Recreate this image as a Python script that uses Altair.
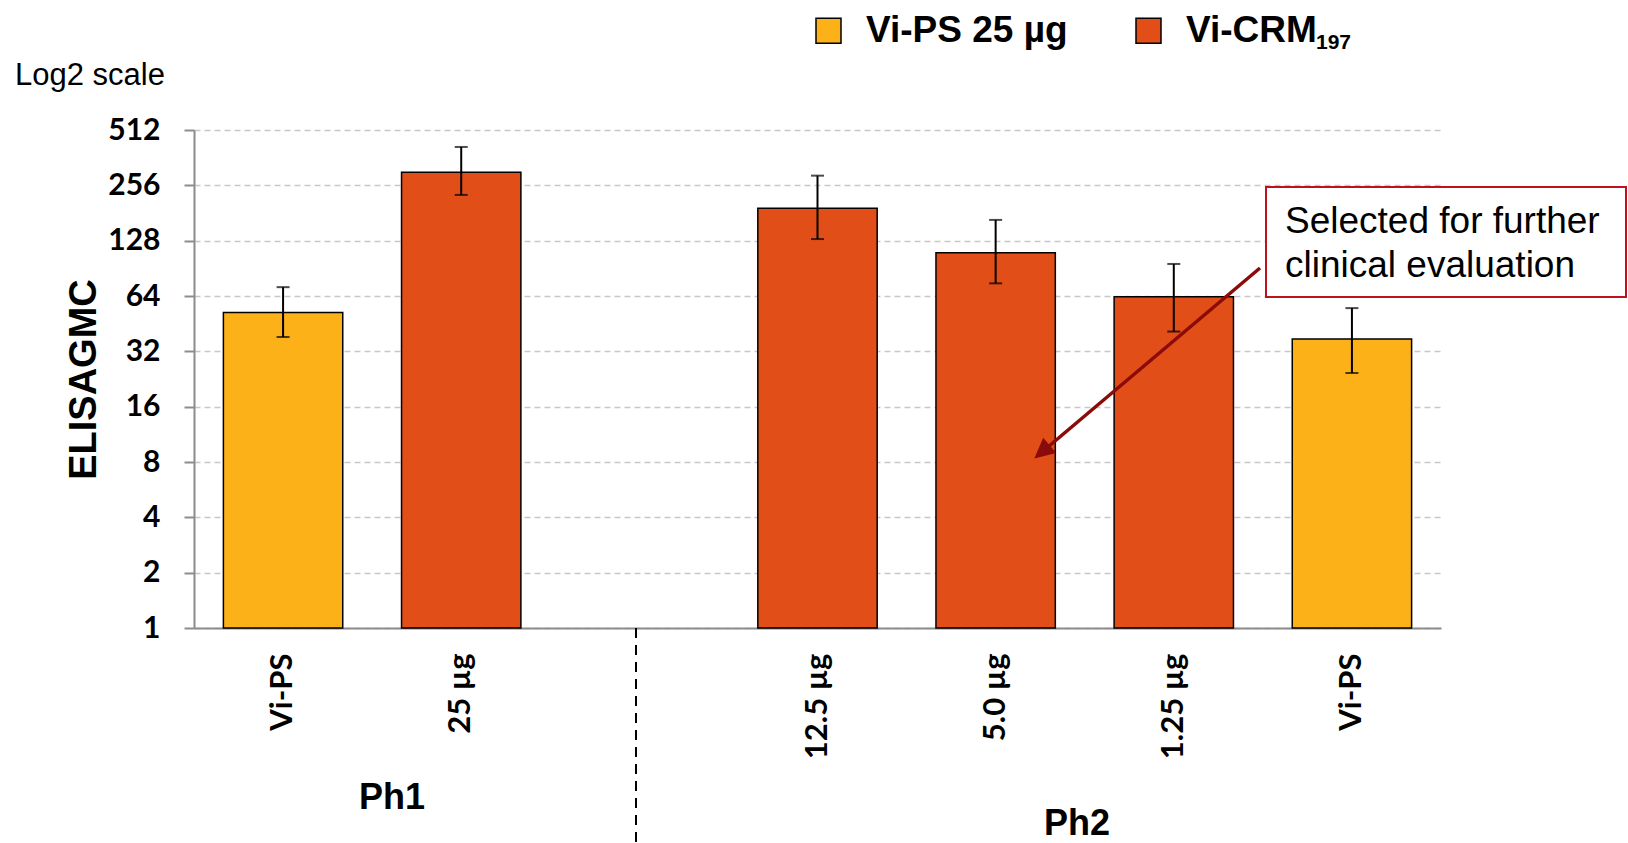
import altair as alt
import pandas as pd

# ELISA geometric mean concentrations with 95% CI, by study phase and dose
phase = ["Ph1", "Ph1", "Ph2", "Ph2", "Ph2", "Ph2"]
dose = ["Vi-PS", "25 µg", "12.5 µg", "5.0 µg", "1.25 µg", "Vi-PS"]
vaccine = ["Vi-PS 25 µg", "Vi-CRM197", "Vi-CRM197", "Vi-CRM197", "Vi-CRM197", "Vi-PS 25 µg"]
gmc = [52, 302, 192, 110, 63.5, 37.3]
ci_low = [38.3, 227, 130.6, 75, 41, 24.4]
ci_high = [71.5, 414, 289, 166, 95.6, 55]

y_ticks = [1, 2, 4, 8, 16, 32, 64, 128, 256, 512]
vaccines = ["Vi-PS 25 µg", "Vi-CRM197"]
vaccine_colors = ["#FDB118", "#E24E17"]

slot = [f"{p}|{d}" for p, d in zip(phase, dose)]
x_domain = slot[:2] + ["gap"] + slot[2:]

df = pd.DataFrame({
    "slot": slot, "vaccine": vaccine, "gmc": gmc,
    "low": ci_low, "high": ci_high, "base": [1] * len(slot),
})

W, H = 1247, 498
LABEL_FONT = "Lato"
TEXT_FONT = "Liberation Sans"

x_enc = alt.X(
    "slot:N",
    scale=alt.Scale(domain=x_domain, paddingInner=0.33, paddingOuter=0.165),
    axis=alt.Axis(
        title=None, labelAngle=270, labelAlign="right", labelBaseline="middle",
        labelFont=LABEL_FONT, labelFontWeight="bold", labelFontSize=31,
        labelPadding=25, ticks=False, domainColor="#8c8c8c", domainWidth=2,
        labelColor="black",
        labelExpr="indexof(datum.label, '|') < 0 ? '' : split(datum.label, '|')[1]",
    ),
)
y_scale = alt.Scale(type="log", base=2, domain=[1, 512], nice=False)

base = alt.Chart(df)

bars = base.mark_bar(stroke="black", strokeWidth=1.5).encode(
    x=x_enc,
    y=alt.Y(
        "gmc:Q", scale=y_scale,
        axis=alt.Axis(
            values=y_ticks, format="d", title="ELISAGMC",
            titleFont=TEXT_FONT, titleFontSize=38, titleFontWeight="bold",
            titleAngle=270, titleX=-110, titleY=H / 2, titleAlign="center",
            titleBaseline="middle", titleColor="black",
            labelFont=LABEL_FONT, labelFontWeight="bold", labelFontSize=30,
            labelPadding=24, labelColor="black",
            tickSize=10, tickWidth=2, tickColor="#8c8c8c",
            domainColor="#8c8c8c", domainWidth=2,
            grid=True, gridDash=[6, 4], gridColor="#c8c8c8", gridWidth=1.5,
        ),
    ),
    y2="base:Q",
    color=alt.Color(
        "vaccine:N",
        scale=alt.Scale(domain=vaccines, range=vaccine_colors),
        legend=alt.Legend(
            title=None, orient="none", legendX=616, legendY=-118,
            direction="horizontal", symbolType="square", symbolSize=625,
            symbolStrokeColor="black", symbolStrokeWidth=1.5, symbolOpacity=1,
            labelFont=TEXT_FONT, labelFontWeight="bold", labelFontSize=37,
            labelColor="black", labelLimit=500, labelOffset=19,
            columnPadding=62, padding=0,
            labelExpr="datum.label == 'Vi-CRM197' ? 'Vi-CRM' : datum.label",
        ),
    ),
)

err = base.mark_rule(color="black", strokeWidth=2).encode(
    x=alt.X("slot:N"), y=alt.Y("low:Q"), y2="high:Q"
)
cap_low = base.mark_tick(color="black", thickness=2, size=13).encode(
    x=alt.X("slot:N"), y=alt.Y("low:Q")
)
cap_high = base.mark_tick(color="black", thickness=2, size=13).encode(
    x=alt.X("slot:N"), y=alt.Y("high:Q")
)

one = pd.DataFrame({"k": [0]})

# subscript of the conjugate's legend label
legend_sub = alt.Chart(one).mark_text(
    text="197", font=TEXT_FONT, fontWeight="bold", fontSize=21,
    align="left", baseline="alphabetic", color="black",
).encode(x=alt.value(1122), y=alt.value(-81))

divider = alt.Chart(one).mark_rule(
    color="black", strokeWidth=2, strokeDash=[10, 7]
).encode(x=alt.value(442), y=alt.value(H), y2=alt.value(H + 220))

ph1 = alt.Chart(one).mark_text(
    text="Ph1", font=TEXT_FONT, fontWeight="bold", fontSize=36,
    align="center", baseline="alphabetic", color="black",
).encode(x=alt.value(198), y=alt.value(679))

ph2 = alt.Chart(one).mark_text(
    text="Ph2", font=TEXT_FONT, fontWeight="bold", fontSize=36,
    align="center", baseline="alphabetic", color="black",
).encode(x=alt.value(883), y=alt.value(705))

log_note = alt.Chart(one).mark_text(
    text="Log2 scale", font=TEXT_FONT, fontSize=31,
    align="left", baseline="alphabetic", color="black",
).encode(x=alt.value(-179), y=alt.value(-45))

callout_box = alt.Chart(one).mark_rect(
    fill="white", stroke="#C0121C", strokeWidth=2
).encode(x=alt.value(1072), x2=alt.value(1432), y=alt.value(57), y2=alt.value(167))

callout_text = alt.Chart(one).mark_text(
    text="Selected for further\nclinical evaluation", lineBreak="\n",
    lineHeight=44, font=TEXT_FONT, fontSize=37,
    align="left", baseline="alphabetic", color="black",
).encode(x=alt.value(1091), y=alt.value(103))

arrow_line = alt.Chart(one).mark_rule(color="#8B0A0A", strokeWidth=3.5).encode(
    x=alt.value(1066), y=alt.value(138), x2=alt.value(848), y2=alt.value(322)
)
arrow_head = alt.Chart(one).mark_point(
    shape="M0,0L-0.5,1L0.5,1Z", filled=True, fill="#8B0A0A",
    stroke="#8B0A0A", opacity=1, size=1150, angle=229.8,
).encode(x=alt.value(842), y=alt.value(327))

chart = alt.layer(
    bars, err, cap_low, cap_high, legend_sub, divider, ph1, ph2, log_note,
    arrow_line, arrow_head, callout_box, callout_text,
).properties(
    width=W, height=H,
    autosize=alt.AutoSizeParams(type="none"),
    padding={"left": 194, "top": 130, "right": 187, "bottom": 215},
).configure_view(stroke=None)

chart.save("out.html", embed_options={"renderer": "svg", "actions": False})
